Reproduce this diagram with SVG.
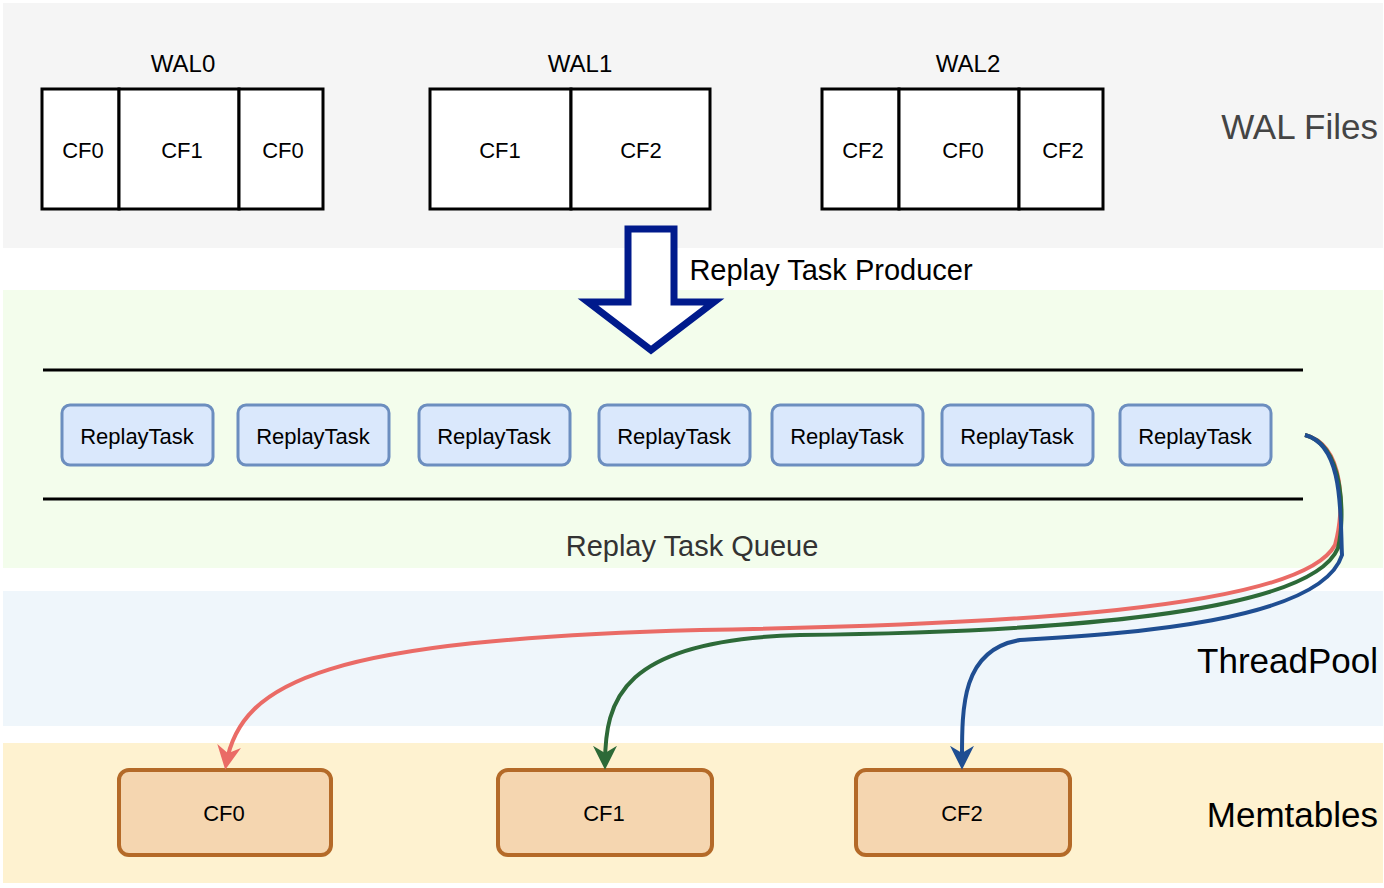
<svg xmlns="http://www.w3.org/2000/svg" width="1384" height="888" viewBox="0 0 1384 888">
<style>
text{font-family:"Liberation Sans",Arial,sans-serif;text-anchor:middle;dominant-baseline:central}
.cf{fill:#fff;stroke:#000;stroke-width:3}
.t{font-size:22px}
.rt{fill:#dae8fc;stroke:#6c8ebf;stroke-width:3}
.mt{fill:#f5d6b0;stroke:#b46a28;stroke-width:4}
.lbl{font-size:35px;text-anchor:end}
.c{fill:none;stroke-width:4}
</style>
<defs>
<marker id="ar" viewBox="0 0 10 10" refX="8" refY="5" markerWidth="6" markerHeight="6" orient="auto"><path d="M0,0L10,5L0,10L3,5Z" fill="#ea6b66"/></marker>
<marker id="ag" viewBox="0 0 10 10" refX="8" refY="5" markerWidth="6" markerHeight="6" orient="auto"><path d="M0,0L10,5L0,10L3,5Z" fill="#2d6a38"/></marker>
<marker id="ab" viewBox="0 0 10 10" refX="8" refY="5" markerWidth="6" markerHeight="6" orient="auto"><path d="M0,0L10,5L0,10L3,5Z" fill="#1f4e92"/></marker>
</defs>
<rect x="0" y="0" width="1384" height="888" fill="#fff"/>
<rect x="3" y="3" width="1380" height="245" fill="#f5f5f5"/>
<rect x="3" y="290" width="1380" height="278" fill="#f3fdec"/>
<rect x="3" y="591" width="1380" height="135" fill="#eff6fb"/>
<rect x="3" y="743" width="1380" height="140" fill="#fef2d0"/>
<text x="1378" y="126" class="lbl" fill="#444">WAL Files</text>
<text x="1378" y="660" class="lbl">ThreadPool</text>
<text x="1378" y="814" class="lbl">Memtables</text>
<g id="wal0"><text x="183" y="63" class="t" style="font-size:24px">WAL0</text>
<rect x="42" y="89" width="77" height="120" class="cf"/><rect x="119" y="89" width="120" height="120" class="cf"/><rect x="239" y="89" width="84" height="120" class="cf"/>
<text x="83" y="150" class="t">CF0</text><text x="182" y="150" class="t">CF1</text><text x="283" y="150" class="t">CF0</text></g>
<g id="wal1"><text x="580" y="63" class="t" style="font-size:24px">WAL1</text>
<rect x="430" y="89" width="141" height="120" class="cf"/><rect x="571" y="89" width="139" height="120" class="cf"/>
<text x="500" y="150" class="t">CF1</text><text x="641" y="150" class="t">CF2</text></g>
<g id="wal2"><text x="968" y="63" class="t" style="font-size:24px">WAL2</text>
<rect x="822" y="89" width="77" height="120" class="cf"/><rect x="899" y="89" width="120" height="120" class="cf"/><rect x="1019" y="89" width="84" height="120" class="cf"/>
<text x="863" y="150" class="t">CF2</text><text x="963" y="150" class="t">CF0</text><text x="1063" y="150" class="t">CF2</text></g>
<g id="producer"><path d="M628,229H674V302H714L651,350L588,302H628Z" fill="#fff" stroke="#001a8c" stroke-width="7" stroke-linejoin="miter"/>
<text x="831" y="270" style="font-size:29px">Replay Task Producer</text></g>
<g id="queue"><line x1="43" y1="370" x2="1303" y2="370" stroke="#000" stroke-width="3"/><line x1="43" y1="499" x2="1303" y2="499" stroke="#000" stroke-width="3"/>
<text x="692" y="546" style="font-size:29px" fill="#333">Replay Task Queue</text></g>
<g id="tasks">
<rect x="62" y="405" width="151" height="60" rx="8" class="rt"/><text x="137" y="436" class="t">ReplayTask</text>
<rect x="238" y="405" width="151" height="60" rx="8" class="rt"/><text x="313" y="436" class="t">ReplayTask</text>
<rect x="419" y="405" width="151" height="60" rx="8" class="rt"/><text x="494" y="436" class="t">ReplayTask</text>
<rect x="599" y="405" width="151" height="60" rx="8" class="rt"/><text x="674" y="436" class="t">ReplayTask</text>
<rect x="772" y="405" width="151" height="60" rx="8" class="rt"/><text x="847" y="436" class="t">ReplayTask</text>
<rect x="942" y="405" width="151" height="60" rx="8" class="rt"/><text x="1017" y="436" class="t">ReplayTask</text>
<rect x="1120" y="405" width="151" height="60" rx="8" class="rt"/><text x="1195" y="436" class="t">ReplayTask</text></g>
<g id="mem">
<rect x="119" y="770" width="212" height="85" rx="10" class="mt"/><text x="224" y="813" class="t">CF0</text>
<rect x="498" y="770" width="214" height="85" rx="10" class="mt"/><text x="604" y="813" class="t">CF1</text>
<rect x="856" y="770" width="214" height="85" rx="10" class="mt"/><text x="962" y="813" class="t">CF2</text></g>
<g id="connectors">
<path class="c" stroke="#ea6b66" d="M1305,435C1345,445 1345,510 1335,545C1300,610 1000,625 700,630C330,640 240,680 226,765" marker-end="url(#ar)"/>
<path class="c" stroke="#2d6a38" d="M1305,435C1345,445 1345,520 1338,548C1310,615 1050,632 800,635C620,640 605,700 605,765" marker-end="url(#ag)"/>
<path class="c" stroke="#1f4e92" d="M1305,435C1345,445 1340,520 1342,555C1320,625 1100,635 1020,640C960,650 962,710 962,765" marker-end="url(#ab)"/>
</g>
</svg>
